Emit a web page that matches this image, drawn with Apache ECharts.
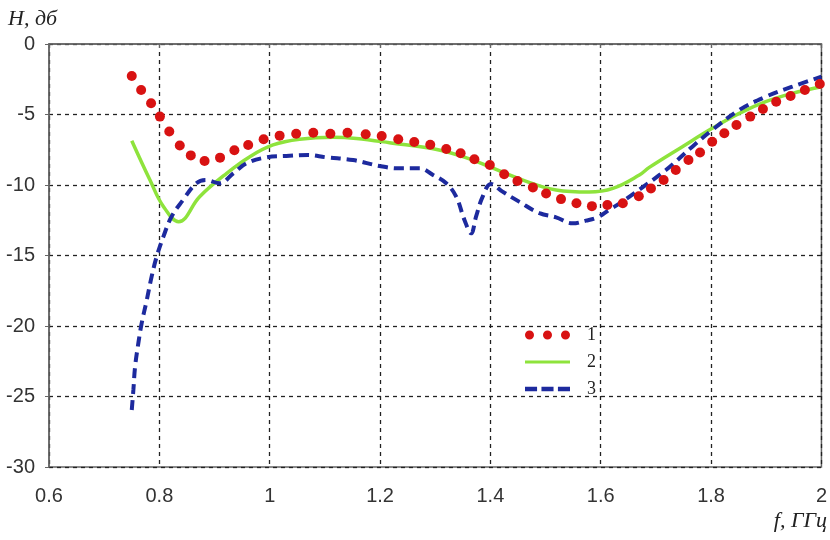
<!DOCTYPE html>
<html>
<head>
<meta charset="utf-8">
<script src="https://cdn.jsdelivr.net/npm/echarts@6/dist/echarts.min.js"></script>
<style>
  html, body { margin: 0; padding: 0; background: #fff; }
  #chart { width: 830px; height: 540px; }
</style>
</head>
<body>
<div id="chart"></div>
<script>
// Кривая 1 (точки)
const f1 = [0.75, 0.767, 0.785, 0.801, 0.818, 0.837, 0.857, 0.882, 0.91, 0.936, 0.961, 0.989,
  1.018, 1.048, 1.079, 1.11, 1.141, 1.174, 1.203, 1.233, 1.262, 1.291, 1.32, 1.346, 1.371,
  1.399, 1.425, 1.449, 1.477, 1.501, 1.528, 1.556, 1.584, 1.612, 1.64, 1.669, 1.691, 1.714,
  1.736, 1.759, 1.78, 1.802, 1.824, 1.846, 1.871, 1.894, 1.918, 1.944, 1.97, 1.997];
const h1 = [-2.27, -3.26, -4.2, -5.15, -6.2, -7.2, -7.9, -8.3, -8.06, -7.54, -7.16, -6.76,
  -6.5, -6.36, -6.29, -6.36, -6.3, -6.4, -6.52, -6.76, -6.95, -7.14, -7.45, -7.75, -8.18,
  -8.58, -9.24, -9.72, -10.17, -10.6, -11.0, -11.3, -11.5, -11.42, -11.3, -10.8, -10.24, -9.65,
  -8.94, -8.23, -7.7, -6.93, -6.33, -5.74, -5.15, -4.61, -4.09, -3.69, -3.26, -2.84];

// Кривая 2 (сплошная)
const f2 = [0.75, 0.783, 0.807, 0.835, 0.873, 0.922, 0.964, 1.006, 1.054, 1.115, 1.157, 1.217,
  1.307, 1.368, 1.398, 1.459, 1.519, 1.579, 1.622, 1.67, 1.688, 1.748, 1.802, 1.851, 1.899,
  1.947, 2.0];
const h2 = [-6.86, -9.65, -11.5, -12.6, -10.83, -9.17, -7.99, -7.16, -6.76, -6.62, -6.7, -7.0,
  -7.52, -8.23, -8.7, -9.65, -10.35, -10.5, -10.24, -9.29, -8.75, -7.28, -5.98, -4.92, -4.09,
  -3.5, -3.03];

// Кривая 3 (штриховая)
const f3 = [0.75, 0.753, 0.756, 0.762, 0.768, 0.777, 0.786, 0.795, 0.807, 0.822, 0.843, 0.867,
  0.885, 0.909, 0.934, 0.958, 0.994, 1.03, 1.069, 1.103, 1.151, 1.199, 1.235, 1.272, 1.296,
  1.32, 1.338, 1.353, 1.365, 1.374, 1.386, 1.401, 1.422, 1.452, 1.489, 1.519, 1.549, 1.573,
  1.594, 1.615, 1.639, 1.669, 1.718, 1.766, 1.802, 1.851, 1.899, 1.947, 2.0];
const h3 = [-25.96, -24.5, -22.9, -21.2, -19.8, -18.2, -16.5, -15.1, -13.7, -12.25, -11.06, -9.88,
  -9.65, -9.88, -9.17, -8.46, -8.04, -7.94, -7.87, -8.04, -8.23, -8.65, -8.82, -8.82, -9.29,
  -9.88, -10.83, -12.48, -13.43, -12.25, -10.83, -9.93, -10.47, -11.18, -12.0, -12.29, -12.72, -12.53,
  -12.29, -11.77, -11.18, -10.35, -8.94, -7.28, -6.1, -4.68, -3.74, -3.03, -2.32];

const seriesNames = ['1', '2', '3'];

function pairs(xs, ys) {
  return xs.map((x, i) => [x, ys[i]]);
}

const labelFont = "'Liberation Sans', Arial, sans-serif";
const serifFont = "'Liberation Serif', 'DejaVu Serif', serif";

const myChart = echarts.init(document.getElementById('chart'));
const option = {
  animation: false,
  backgroundColor: '#fff',
  grid: {
    left: 49,
    right: 8,
    top: 44,
    bottom: 73,
    show: true,
    borderColor: '#666',
    borderWidth: 1.5
  },
  legend: {
    orient: 'vertical',
    left: 520,
    top: 320,
    itemWidth: 45,
    itemHeight: 10,
    itemGap: 7,
    symbolKeepAspect: true,
    data: [
      // иконки легенды: три точки, линия, три штриха
      {name: '1', icon: 'path://M0,4.5a4.5,4.5 0 1,0 9,0a4.5,4.5 0 1,0 -9,0z M18,4.5a4.5,4.5 0 1,0 9,0a4.5,4.5 0 1,0 -9,0z M36,4.5a4.5,4.5 0 1,0 9,0a4.5,4.5 0 1,0 -9,0z'},
      {name: '2', icon: 'path://M0,0h45v3h-45z'},
      {name: '3', icon: 'path://M0,0h11v4h-11z M15,0h11v4h-11z M30,0h11v4h-11z'}
    ],
    textStyle: {
      fontFamily: serifFont,
      fontSize: 18,
      lineHeight: 20,
      color: '#222',
      padding: [0, 0, 0, 12]
    }
  },
  xAxis: {
    type: 'value',
    min: 0.6,
    max: 2,
    interval: 0.2,
    axisLine: {show: true, lineStyle: {color: '#666', width: 1.5}},
    axisTick: {show: true, length: 4, lineStyle: {color: '#666'}},
    axisLabel: {
      margin: 19,
      color: '#333',
      fontSize: 20,
      fontFamily: labelFont
    },
    splitLine: {
      show: true,
      lineStyle: {color: '#222', width: 1.3, type: [4, 4]}
    }
  },
  yAxis: {
    type: 'value',
    min: -30,
    max: 0,
    interval: 5,
    axisLine: {show: true, onZero: false, lineStyle: {color: '#666', width: 1.5}},
    axisTick: {show: true, length: 4, lineStyle: {color: '#666'}},
    axisLabel: {
      margin: 14,
      color: '#333',
      fontSize: 20,
      fontFamily: labelFont
    },
    splitLine: {
      show: true,
      lineStyle: {color: '#222', width: 1.3, type: [4, 4]}
    }
  },
  graphic: [
    {
      type: 'text',
      left: 8,
      top: 8,
      style: {text: 'H, дб', font: "italic 22px " + serifFont, fill: '#222'}
    },
    {
      type: 'text',
      right: 3,
      top: 510,
      style: {text: 'f, ГГц', font: "italic 22px " + serifFont, fill: '#222'}
    }
  ],
  series: [
    {
      name: seriesNames[1],
      type: 'line',
      smooth: 0.4,
      symbol: 'none',
      color: '#8ee33c',
      lineStyle: {color: '#8ee33c', width: 3.5},
      data: pairs(f2, h2),
      z: 2
    },
    {
      name: seriesNames[2],
      type: 'line',
      smooth: 0.4,
      symbol: 'none',
      color: '#1d2a9e',
      lineStyle: {color: '#1d2a9e', width: 4, type: [10, 6]},
      data: pairs(f3, h3),
      z: 3
    },
    {
      name: seriesNames[0],
      type: 'scatter',
      symbol: 'circle',
      symbolSize: 10,
      color: '#d81212',
      itemStyle: {color: '#d81212', opacity: 1},
      data: pairs(f1, h1),
      z: 4
    }
  ]
};
myChart.setOption(option);
</script>
</body>
</html>
